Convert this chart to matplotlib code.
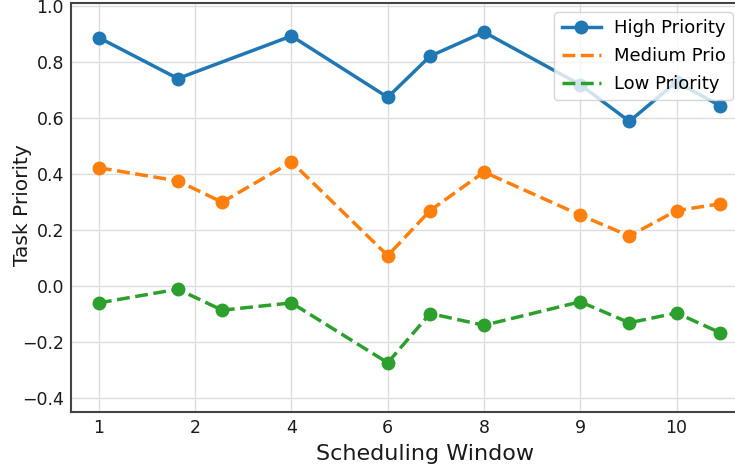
import matplotlib
matplotlib.use("Agg")
import matplotlib.pyplot as plt
from matplotlib.lines import Line2D

# tick positions and their (irregular) labels
tick_pos = [0, 1, 2, 3, 4, 5, 6]
tick_labels = ["1", "2", "4", "6", "8", "9", "10"]

# window positions (in tick units)
high_x = [0, 0.82, 2, 3, 3.44, 4, 5, 5.51, 6, 6.45]
high_y = [0.888, 0.742, 0.894, 0.675, 0.822, 0.908, 0.72, 0.589, 0.73, 0.645]

mid_x = [0, 0.82, 1.28, 2, 3, 3.44, 4, 5, 5.51, 6, 6.45]
mid_y = [0.423, 0.376, 0.30, 0.444, 0.109, 0.27, 0.408, 0.254, 0.179, 0.27, 0.294]

low_x = [0, 0.82, 1.28, 2, 3, 3.44, 4, 5, 5.51, 6, 6.45]
low_y = [-0.06, -0.011, -0.086, -0.06, -0.274, -0.098, -0.14, -0.056, -0.131, -0.096, -0.166]

blue, orange, green = "#1f77b4", "#ff7f0e", "#2ca02c"

fig = plt.figure(figsize=(7.35, 4.71), dpi=100)
ax = fig.add_axes([71 / 735, 59 / 471, 671 / 735, 409 / 471])

ax.plot(high_x, high_y, color=blue, lw=2.5, marker="o", ms=9)
ax.plot(mid_x, mid_y, color=orange, lw=2.5, ls="--", marker="o", ms=9)
ax.plot(low_x, low_y, color=green, lw=2.5, ls="--", marker="o", ms=9)

ax.set_xlim(-0.29, 6.68)
ax.set_ylim(-0.45, 1.012)
ax.set_xticks(tick_pos)
ax.set_xticklabels(tick_labels)
ax.set_yticks([-0.4, -0.2, 0.0, 0.2, 0.4, 0.6, 0.8, 1.0])
ax.set_yticklabels(["\u22120.4", "\u22120.2", "0.0", "0.2", "0.4", "0.6", "0.8", "1.0"])
ax.tick_params(labelsize=12.5, length=0, pad=5, labelcolor="#1a1a1a")
ax.grid(True, color="#dcdcdc", lw=1)
ax.set_axisbelow(True)
for s in ax.spines.values():
    s.set_color("#444444")
    s.set_linewidth(1.5)

ax.set_xlabel("Scheduling Window", fontsize=16, color="#1a1a1a")
ax.set_ylabel("Task Priority", fontsize=14.5, color="#1a1a1a")
ax.xaxis.set_label_coords(0.5276, -0.079)
ax.yaxis.set_label_coords(-0.058, 0.506)

handles = [
    Line2D([], [], color=blue, lw=2.5, marker="o", ms=9),
    Line2D([], [], color=orange, lw=2.5, ls="--"),
    Line2D([], [], color=green, lw=2.5, ls="--"),
]
ax.legend(handles, ["High Priority", "Medium Prio", "Low Priority"],
          loc="upper right", fontsize=13, framealpha=0.8, borderaxespad=0.5,
          labelspacing=0.55, handlelength=2.2, handletextpad=0.7)

fig.savefig("out.png", dpi=100)
